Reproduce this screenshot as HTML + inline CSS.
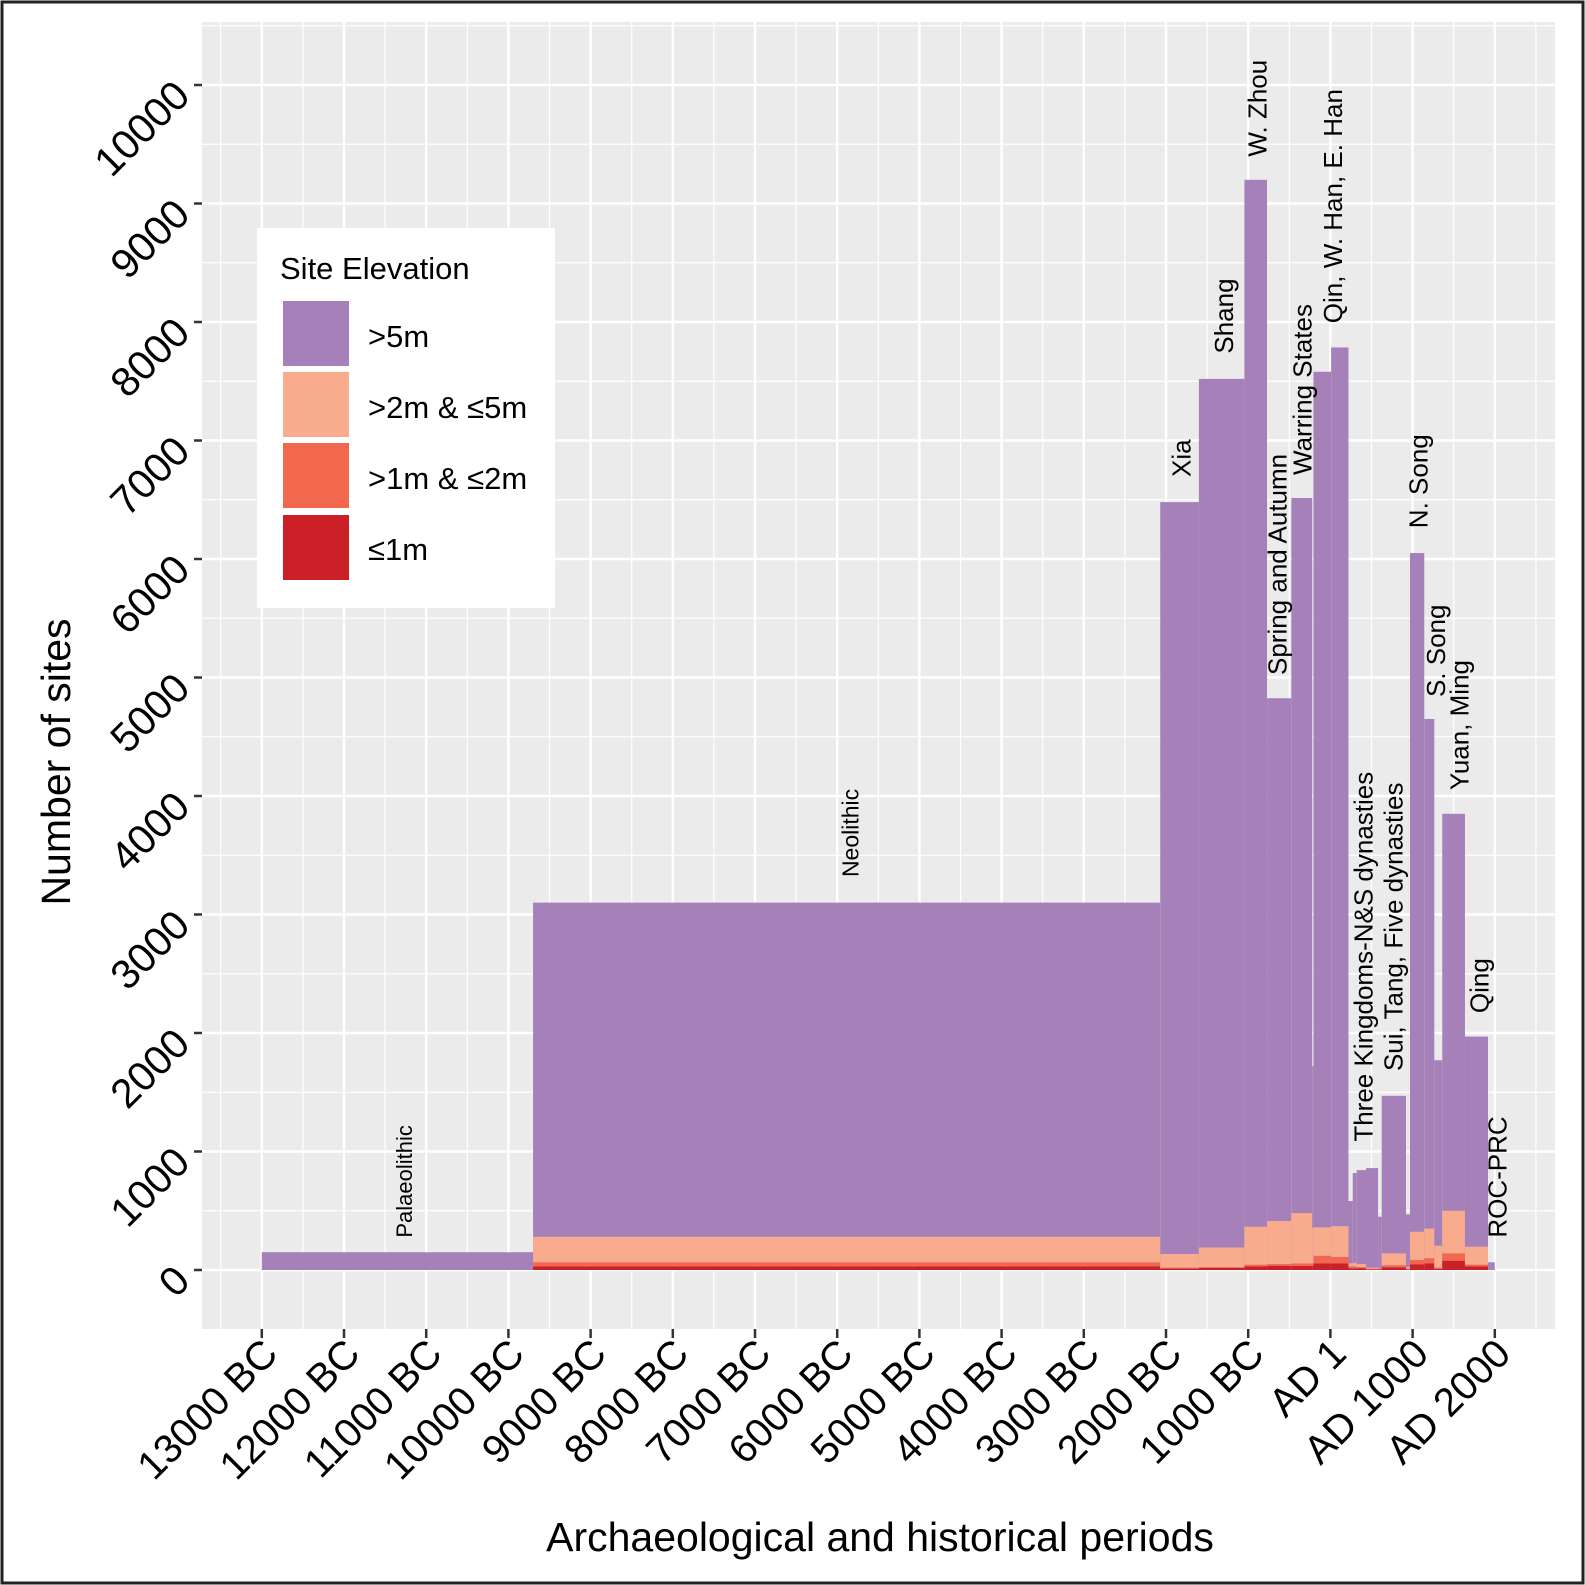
<!DOCTYPE html>
<html><head><meta charset="utf-8"><style>
html,body{margin:0;padding:0;background:#fff}
svg{display:block;font-family:"Liberation Sans",Arial,sans-serif}
</style></head><body>
<svg id="chart" width="1585" height="1585" viewBox="0 0 1585 1585">
<rect x="2" y="2" width="1581" height="1581" fill="#fff" stroke="#222" stroke-width="3"/>
<rect x="202" y="22" width="1353" height="1307" fill="#ebebeb"/>
<g id="grid"></g>
<g id="bars"></g>
<g id="plabels"></g>
<g id="axes"></g>
<text x="70" y="762" font-size="41" text-anchor="middle" transform="rotate(-90 70 762)">Number of sites</text>
<text x="880" y="1551" font-size="41" text-anchor="middle">Archaeological and historical periods</text>
<g>
<rect x="257" y="228" width="298" height="380" fill="#fff"/>
<text x="280" y="279" font-size="31">Site Elevation</text>
<rect x="283" y="301" width="66" height="65" fill="#a680b9"/>
<text x="368" y="347" font-size="31">&gt;5m</text>
<rect x="283" y="372" width="66" height="65" fill="#f9ab8e"/>
<text x="368" y="418" font-size="31">&gt;2m &amp; ≤5m</text>
<rect x="283" y="443" width="66" height="65" fill="#f2684f"/>
<text x="368" y="489" font-size="31">&gt;1m &amp; ≤2m</text>
<rect x="283" y="515" width="66" height="65" fill="#cb2027"/>
<text x="368" y="560" font-size="31">≤1m</text>
</g>
</svg>
<script>
// data
const segStart = [-13000,-9700,-2070,-1600,-1046,-770,-475,-221,-206,9,220,272,320,433,580,624,920,968,1142,1264,1361,1637,1917];
const segEnd   = [-9700,-2070,-1600,-1046,-771,-476,-221,-206,9,220,272,320,433,580,624,920,968,1142,1264,1361,1637,1917,2000];
const segTotal = [150,3100,6480,7520,9200,4825,6515,1720,7580,7785,582,818,843,860,450,1470,470,6050,4650,1770,3850,1970,65];
const seg2to5  = [0,215,115,166,320,363,425,300,240,260,26,30,25,10,5,100,15,238,250,185,360,152,0];
const seg1to2  = [0,35,8,7,15,15,20,20,64,54,15,15,10,5,5,18,5,37,44,10,62,15,0];
const segLe1   = [0,30,12,17,30,35,35,35,56,56,15,15,15,5,5,22,5,48,56,10,78,30,0];
const yTicks = [0,1000,2000,3000,4000,5000,6000,7000,8000,9000,10000];
const xTickYears = [-13000,-12000,-11000,-10000,-9000,-8000,-7000,-6000,-5000,-4000,-3000,-2000,-1000,1,1000,2000];
const xTickLabels = ["13000 BC","12000 BC","11000 BC","10000 BC","9000 BC","8000 BC","7000 BC","6000 BC","5000 BC","4000 BC","3000 BC","2000 BC","1000 BC","AD 1","AD 1000","AD 2000"];
const labelText = ["Palaeolithic","Neolithic","Xia","Shang","W. Zhou","Spring and Autumn","Warring States","Qin, W. Han, E. Han","Three Kingdoms-N&S dynasties","Sui, Tang, Five dynasties","N. Song","S. Song","Yuan, Ming","Qing","ROC-PRC"];
const labelYear = [-11270,-5844,-1818,-1300,-893,-650,-345,25,396,762,1066,1279,1564,1808,2027];
const labelValue = [273,3316,6692,7733,9396,5021,6709,7990,1083,1679,6260,4835,4050,2168,273];
const labelSize = [22,23,26,26,26,26,26,26,26,26,26,26,26,26,26];

const NS='http://www.w3.org/2000/svg';
const X = yr => 1166 + (yr + 2000) * 0.0822;
const Y = v => 1270 - v * 0.1185;
function mk(tag, attrs, parent){const e=document.createElementNS(NS,tag);for(const k in attrs)e.setAttribute(k,attrs[k]);parent.appendChild(e);return e;}
const grid=document.getElementById('grid'), bars=document.getElementById('bars'), axes=document.getElementById('axes'), pl=document.getElementById('plabels');
const PX0=202,PX1=1555,PY0=22,PY1=1329;
for(let v=-500; v<=10500; v+=500){const y=Y(v); if(y<PY0||y>PY1)continue;
 const l=mk('line',{x1:PX0,x2:PX1,y1:y,y2:y,stroke:'#fff','stroke-width':(v%1000===0)?2.4:1.2},grid);
 
 }
for(let yr=-13500; yr<=2500; yr+=500){const x=X(yr); if(x<PX0||x>PX1)continue;
 const l=mk('line',{x1:x,x2:x,y1:PY0,y2:PY1,stroke:'#fff','stroke-width':(yr%1000===0)?2.4:1.2},grid);
 
 }
const colors=['#cb2027','#f2684f','#f9ab8e','#a680b9'];
const names=['le1m','1to2m','2to5m','gt5m'];
for(let i=0;i<segStart.length;i++){
 const x0=X(segStart[i]), x1=X(segEnd[i]);
 const parts=[segLe1[i],seg1to2[i],seg2to5[i]];
 const p=mk('rect',{x:x0,y:Y(segTotal[i]),width:x1-x0,height:Y(0)-Y(segTotal[i]),fill:colors[3]},bars);
 
 
 let base=0;
 for(let k=0;k<3;k++){ if(parts[k]<=0){continue;}
  const top=base+parts[k];
  const r=mk('rect',{x:x0,y:Y(top),width:x1-x0,height:Y(base)-Y(top),fill:colors[k]},bars);
  
  
  base=top; }
}
for(let i=0;i<labelText.length;i++){
 const x=X(labelYear[i])+labelSize[i]*0.36, y=Y(labelValue[i]);
 const t=mk('text',{x:x,y:y,'font-size':labelSize[i],transform:`rotate(-90 ${x} ${y})`},pl);
 t.textContent=labelText[i];
 
 
}
for(const v of yTicks){const y=Y(v);
 const tk=mk('line',{x1:PX0-8,x2:PX0,y1:y,y2:y,stroke:'#333','stroke-width':2.5},axes);
 
 
 const ax=192, ay=y+13;
 const t=mk('text',{x:ax,y:ay,'font-size':41,'text-anchor':'end',transform:`rotate(-45 ${ax} ${ay})`},axes);
 t.textContent=v;
 
 }
for(let i=0;i<xTickYears.length;i++){const x=X(xTickYears[i]===1?0:xTickYears[i]);
 const tk=mk('line',{x1:x,x2:x,y1:PY1,y2:PY1+9,stroke:'#333','stroke-width':2.5},axes);
 
 
 const ax=x+18, ay=1356;
 const t=mk('text',{x:ax,y:ay,'font-size':40,'text-anchor':'end',transform:`rotate(-45 ${ax} ${ay})`},axes);
 t.textContent=xTickLabels[i];
 
 }
</script>
</body></html>
